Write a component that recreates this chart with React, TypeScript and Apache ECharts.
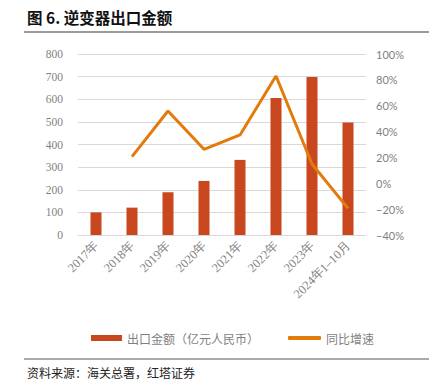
import React, { useEffect, useRef } from "react";
import * as echarts from "echarts";

const categories = ["2017年", "2018年", "2019年", "2020年", "2021年", "2022年", "2023年", "2024年1–10月"];
const exportValues = [100, 121, 189, 239, 332, 605, 698, 497];
const yoyGrowth = [null, 20.6, 55.9, 26.3, 37.4, 83.0, 14.9, -19.4];
const barName = "出口金额（亿元人民币）";
const lineName = "同比增速";
const titleText = "图 6. 逆变器出口金额";
const sourceText = "资料来源：海关总署，红塔证券";

export default function App() {
  const ref = useRef<HTMLDivElement>(null);
  useEffect(() => {
    document.body.style.margin = "0";
    const chart = echarts.init(ref.current!, undefined, { renderer: "svg" });
    const gray = "#7f7f7f";
    chart.setOption({
      animation: false,
      backgroundColor: "#ffffff",
      grid: { left: 78, right: 63, top: 54, bottom: 156 },
      legend: [
        {
          left: 86,
          top: 327,
          itemWidth: 31,
          itemHeight: 6,
          icon: "rect",
          data: [barName],
          textStyle: { color: gray, fontSize: 12, fontFamily: "Noto Sans CJK SC" },
        },
        {
          left: 283,
          top: 327,
          itemWidth: 33,
          itemHeight: 4,
          icon: "roundRect",
          data: [lineName],
          textStyle: { color: gray, fontSize: 12, fontFamily: "Noto Sans CJK SC" },
        },
      ],
      xAxis: {
        type: "category",
        data: categories,
        axisLine: { lineStyle: { color: "#d9d9d9" } },
        axisTick: { show: false },
        axisLabel: {
          rotate: 45,
          interval: 0,
          margin: 9,
          color: gray,
          fontSize: 12.5,
          fontFamily: "Liberation Serif",
        },
      },
      yAxis: [
        {
          type: "value",
          min: 0,
          max: 800,
          interval: 100,
          axisLine: { show: false },
          axisTick: { show: false },
          splitLine: { lineStyle: { color: "#d9d9d9", width: 1 } },
          axisLabel: { color: gray, fontSize: 11.5, margin: 15, fontFamily: "Liberation Serif" },
        },
        {
          type: "value",
          min: -40,
          max: 100,
          interval: 20,
          axisLine: { show: false },
          axisTick: { show: false },
          splitLine: { show: false },
          axisLabel: {
            color: gray,
            fontSize: 11,
            margin: 10,
            fontFamily: "Lato",
            formatter: (v: number) => (v < 0 ? "−" + Math.abs(v) : String(v)) + "%",
          },
        },
      ],
      series: [
        {
          name: barName,
          type: "bar",
          data: exportValues,
          barWidth: 11,
          itemStyle: { color: "#C9471F" },
        },
        {
          name: lineName,
          type: "line",
          yAxisIndex: 1,
          data: yoyGrowth,
          symbol: "none",
          lineStyle: { color: "#E37B0C", width: 3 },
          itemStyle: { color: "#E37B0C" },
        },
      ],
      graphic: [
        {
          type: "text",
          left: 27,
          top: 9,
          style: {
            text: titleText,
            fontSize: 15.5,
            fontWeight: "bold",
            fill: "#111111",
            fontFamily: "Noto Sans CJK SC",
          },
        },
        {
          type: "line",
          shape: { x1: 24, y1: 32, x2: 429, y2: 32 },
          style: { stroke: "#7a7a7a", lineWidth: 1.5 },
        },
        {
          type: "line",
          shape: { x1: 24, y1: 359, x2: 429, y2: 359 },
          style: { stroke: "#555555", lineWidth: 1 },
        },
        {
          type: "text",
          left: 27,
          top: 366,
          style: {
            text: sourceText,
            fontSize: 12,
            fill: "#222222",
            fontFamily: "Noto Sans CJK SC",
          },
        },
      ],
    });
    return () => chart.dispose();
  }, []);
  return <div ref={ref} style={{ width: 429, height: 391 }} />;
}
